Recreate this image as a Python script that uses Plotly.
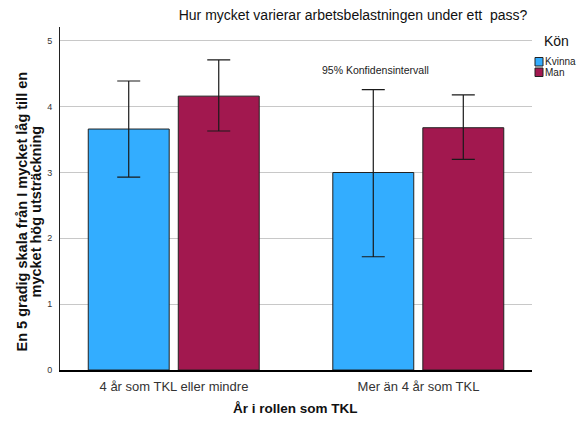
import plotly.graph_objects as go

categories = ["4 år som TKL eller mindre", "Mer än 4 år som TKL"]
kvinna_mean = [3.66, 3.00]
kvinna_low = [2.93, 1.72]
kvinna_high = [4.39, 4.26]
man_mean = [4.16, 3.68]
man_low = [3.63, 3.20]
man_high = [4.71, 4.18]
y_ticks = [0, 1, 2, 3, 4, 5]

FONT = "Liberation Sans, Arial, sans-serif"
BLUE = "#33ADFF"
RED = "#A2184F"

fig = go.Figure()


def err(mean, low, high):
    return dict(type="data", symmetric=False,
                array=[h - m for m, h in zip(mean, high)],
                arrayminus=[m - l for m, l in zip(mean, low)],
                color="#1a1a1a", thickness=1.2, width=11.5)


fig.add_trace(go.Bar(x=categories, y=kvinna_mean, name="Kvinna",
                     marker=dict(color=BLUE, line=dict(color="#222222", width=1)),
                     width=0.331, offset=-0.3505,
                     error_y=err(kvinna_mean, kvinna_low, kvinna_high)))
fig.add_trace(go.Bar(x=categories, y=man_mean, name="Man",
                     marker=dict(color=RED, line=dict(color="#222222", width=1)),
                     width=0.331, offset=0.0176,
                     error_y=err(man_mean, man_low, man_high)))

W, H = 579, 421
L, R, T, B = 60, 47, 27, 51
pw, ph = W - L - R, H - T - B


def px(xp):
    return (xp - L) / pw


def py(yp):
    return (H - B - yp) / ph


fig.update_layout(
    width=W, height=H, autosize=False,
    margin=dict(l=L, r=R, t=T, b=B),
    paper_bgcolor="white", plot_bgcolor="white",
    barmode="overlay", showlegend=False,
    font=dict(family=FONT, color="#222222"),
    title=dict(text="Hur mycket varierar arbetsbelastningen under ett  pass?",
               xref="paper", x=px(353), xanchor="center",
               y=1 - 15 / H, yanchor="middle",
               font=dict(size=14, family=FONT, color="#111111")),
    xaxis=dict(range=[-0.466, 1.464], showline=True, linecolor="black", linewidth=2,
               showgrid=False, ticks="", tickfont=dict(size=13, color="#333333"),
               ticklabelstandoff=3, fixedrange=True),
    yaxis=dict(range=[0, 5.21], tickvals=y_ticks, showline=True, linecolor="#222222",
               linewidth=1, showgrid=True, gridcolor="#c8c8c8", gridwidth=1,
               zeroline=False, ticks="", tickfont=dict(size=9, color="#333333"),
               ticklabelstandoff=5, fixedrange=True),
)

ytitle_font = dict(size=14.5, family=FONT, color="#111111", weight="bold")
annotations = [
    dict(text="En 5 gradig skala från I mycket låg till en",
         textangle=-90, x=px(22), y=py(211.5), xref="paper", yref="paper",
         xanchor="center", yanchor="middle", showarrow=False, font=ytitle_font),
    dict(text="mycket hög utsträckning",
         textangle=-90, x=px(36), y=py(211.5), xref="paper", yref="paper",
         xanchor="center", yanchor="middle", showarrow=False, font=ytitle_font),
    dict(text="År i rollen som TKL", x=px(295.5), y=py(408), xref="paper", yref="paper",
         xanchor="center", yanchor="middle", showarrow=False,
         font=dict(size=13.5, family=FONT, color="#111111", weight="bold")),
    dict(text="95% Konfidensintervall", x=px(375), y=py(70), xref="paper", yref="paper",
         xanchor="center", yanchor="middle", showarrow=False,
         font=dict(size=10.5, family=FONT, color="#222222")),
    dict(text="Kön", x=px(542), y=py(41.5), xref="paper", yref="paper",
         xanchor="left", yanchor="middle", showarrow=False,
         font=dict(size=14, family=FONT, color="#111111")),
    dict(text="Kvinna", x=px(543), y=py(61.5), xref="paper", yref="paper",
         xanchor="left", yanchor="middle", showarrow=False,
         font=dict(size=10, family=FONT, color="#222222")),
    dict(text="Man", x=px(543), y=py(72), xref="paper", yref="paper",
         xanchor="left", yanchor="middle", showarrow=False,
         font=dict(size=10, family=FONT, color="#222222")),
]
fig.update_layout(annotations=annotations)

shapes = [
    dict(type="rect", xref="paper", yref="paper", x0=px(535), x1=px(543),
         y0=py(66), y1=py(57.5), fillcolor=BLUE, line=dict(color="#222222", width=1)),
    dict(type="rect", xref="paper", yref="paper", x0=px(535), x1=px(543),
         y0=py(76.5), y1=py(68), fillcolor=RED, line=dict(color="#222222", width=1)),
]
fig.update_layout(shapes=shapes)

fig.write_html("out.html", config=dict(displayModeBar=False),
               post_script="document.body.style.margin='0';document.body.style.overflow='hidden';")
